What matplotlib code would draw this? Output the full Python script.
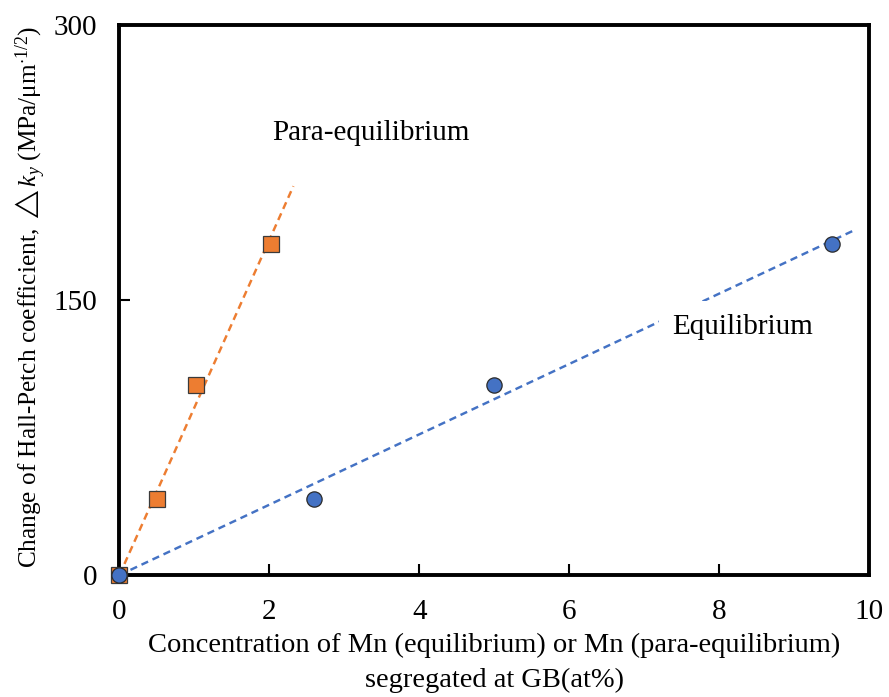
import numpy as np
import matplotlib
matplotlib.use("Agg")
import matplotlib.pyplot as plt

plt.rcParams['font.family'] = ['Liberation Serif', 'DejaVu Sans']
plt.rcParams['mathtext.fontset'] = 'custom'
plt.rcParams['mathtext.rm'] = 'Liberation Serif'
plt.rcParams['mathtext.it'] = 'Liberation Serif:italic'
plt.rcParams['mathtext.bf'] = 'Liberation Serif:bold'
plt.rcParams['mathtext.fallback'] = 'stix'

# Para-equilibrium Mn segregation (squares)
para_x = [0.0, 0.5, 1.02, 2.02]
para_y = [0.0, 41.6, 103.7, 180.2]
# Equilibrium Mn segregation (circles)
eq_x = [0.0, 2.6, 5.0, 9.5]
eq_y = [0.0, 41.6, 103.7, 180.2]
# Extent of each fitted trend line along x
para_fit_end = 2.32
eq_fit_end = 9.78

x_ticks = [0, 2, 4, 6, 8, 10]
y_ticks = [0, 150, 300]

orange = '#ED7D31'
blue = '#4472C4'


def origin_slope(x, y):
    x = np.asarray(x)
    y = np.asarray(y)
    return float(np.sum(x * y) / np.sum(x * x))


fig = plt.figure(figsize=(8.89, 6.97), dpi=100)
ax = fig.add_axes([0.1344, 0.175, 0.8431, 0.7898])

# Linear trend lines through the origin
for xs, ys, end, c in [(para_x, para_y, para_fit_end, orange),
                       (eq_x, eq_y, eq_fit_end, blue)]:
    k = origin_slope(xs, ys)
    xx = np.array([0.0, end])
    ln, = ax.plot(xx, k * xx, color=c, lw=1.75, zorder=2)
    ln.set_dashes((3, 2))

ax.plot(para_x, para_y, ls='none', marker='s', ms=11, mfc=orange,
        mec='#3a3a3a', mew=0.9, zorder=4, clip_on=False)
ax.plot(eq_x, eq_y, ls='none', marker='o', ms=11, mfc=blue,
        mec='#2a2a2a', mew=0.9, zorder=5, clip_on=False)

ax.text(3.35, 241, 'Para-equilibrium', fontsize=21, ha='center', va='center',
        zorder=3)
ax.text(8.31, 135, 'Equilibrium', fontsize=21, ha='center', va='center',
        zorder=3, bbox=dict(boxstyle='square,pad=0.45', fc='white', ec='none'))

ax.set_xlim(0, 10)
ax.set_ylim(0, 300)
ax.set_xticks(x_ticks)
ax.set_yticks(y_ticks)
ax.tick_params(direction='in', length=8, width=1.5, labelsize=21)
ax.tick_params(axis='x', pad=17)
ax.tick_params(axis='y', pad=16)
for s in ax.spines.values():
    s.set_linewidth(2.8)

ax.set_xlabel('Concentration of Mn (equilibrium) or Mn (para-equilibrium)\n'
              'segregated at GB(at%)', fontsize=20.5, labelpad=6, linespacing=1.5)
ax.set_ylabel(r'Change of Hall-Petch coefficient, $\triangle k_y$ (MPa/μm$^{\cdot1/2}$)',
              fontsize=18.2, labelpad=6)
ax.yaxis.set_label_coords(-0.097, 0.505)

fig.savefig('out.png', dpi=100)
